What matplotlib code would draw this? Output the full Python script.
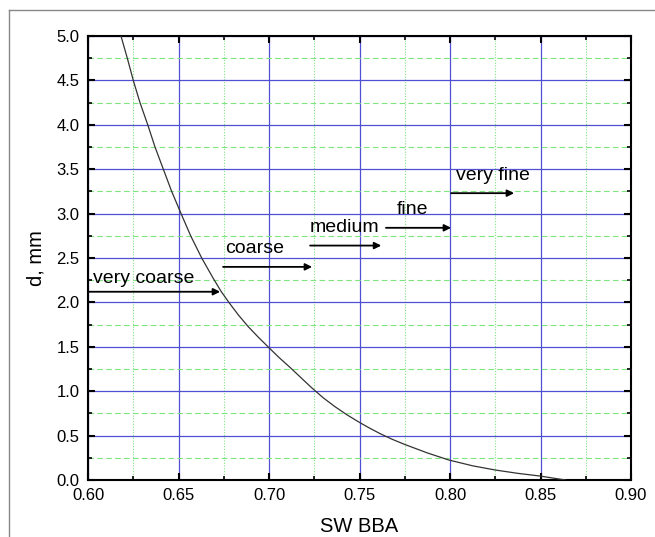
import matplotlib
matplotlib.use("Agg")
import matplotlib.pyplot as plt
from matplotlib.lines import Line2D
from matplotlib.ticker import MultipleLocator, FormatStrFormatter

plt.rcParams['font.family'] = ['Liberation Sans', 'DejaVu Sans']

# Grain size d (mm) versus SW BBA
sw_bba = [0.6182, 0.6217, 0.625, 0.6287, 0.633, 0.637, 0.6416, 0.6462,
          0.6514, 0.6567, 0.6628, 0.6692, 0.6735, 0.6780, 0.6830, 0.6886,
          0.6940, 0.6997, 0.7055, 0.7115, 0.7175, 0.7235, 0.7300, 0.7365,
          0.7430, 0.7497, 0.7555, 0.7613, 0.7680, 0.7748, 0.7875, 0.7994,
          0.8125, 0.8249, 0.8375, 0.8497, 0.8600, 0.8640]
d_mm = [5.0, 4.75, 4.5, 4.25, 4.0, 3.75, 3.5, 3.25,
        3.0, 2.75, 2.5, 2.27, 2.125, 1.995, 1.86, 1.725,
        1.61, 1.495, 1.38, 1.27, 1.155, 1.04, 0.925, 0.825,
        0.735, 0.652, 0.585, 0.523, 0.459, 0.402, 0.305, 0.225,
        0.16, 0.113, 0.075, 0.045, 0.012, 0.0]

# Size classes: label, label anchor (x, y), arrow start x, arrow end x, arrow y
class_labels = ["very coarse", "coarse", "medium", "fine", "very fine"]
label_x = [0.603, 0.6757, 0.7227, 0.7707, 0.8033]
label_y = [2.27, 2.61, 2.84, 3.05, 3.43]
arrow_x0 = [0.600, 0.6746, 0.7227, 0.7646, 0.8006]
arrow_x1 = [0.673, 0.7238, 0.762, 0.8006, 0.8354]
arrow_y = [2.12, 2.40, 2.64, 2.84, 3.23]

fig = plt.figure(figsize=(6.55, 5.37), dpi=100)
ax = fig.add_axes([0.1344, 0.1061, 0.9634 - 0.1344, 0.933 - 0.1061])

ax.set_xlim(0.60, 0.90)
ax.set_ylim(0.0, 5.0)
ax.xaxis.set_major_locator(MultipleLocator(0.05))
ax.xaxis.set_minor_locator(MultipleLocator(0.025))
ax.yaxis.set_major_locator(MultipleLocator(0.5))
ax.yaxis.set_minor_locator(MultipleLocator(0.25))
ax.xaxis.set_major_formatter(FormatStrFormatter('%.2f'))
ax.yaxis.set_major_formatter(FormatStrFormatter('%.1f'))

ax.grid(which='major', color='#5050d4', linewidth=0.9, linestyle='-')
ax.yaxis.grid(which='minor', color='#7ee47e', linewidth=0.8,
              linestyle=(0, (5, 3)))
ax.xaxis.grid(which='minor', color='#7ee47e', linewidth=0.8,
              linestyle=(0, (1, 1.5)))
ax.set_axisbelow(True)

ax.tick_params(which='both', direction='in', top=True, right=True,
               labelsize=12, pad=6)
ax.tick_params(which='major', length=5, width=1.5)
ax.tick_params(which='minor', length=3, width=1.2)
for s in ax.spines.values():
    s.set_linewidth(1.5)

ax.plot(sw_bba, d_mm, color='#333333', linewidth=0.9, zorder=3,
        solid_joinstyle='round')

for lab, lx, ly, x0, x1, ay in zip(class_labels, label_x, label_y,
                                   arrow_x0, arrow_x1, arrow_y):
    ax.text(lx, ly, lab, fontsize=14, ha='left', va='center', zorder=4)
    ax.annotate('', xy=(x1, ay), xytext=(x0, ay),
                arrowprops=dict(arrowstyle='-|>', color='black', lw=1.3,
                                mutation_scale=10, shrinkA=0, shrinkB=0),
                zorder=4)

ax.set_xlabel('SW BBA', fontsize=14.5, labelpad=10)
ax.set_ylabel('d, mm', fontsize=14.5, labelpad=8)

# Outer frame lines along top and left
fy = 1 - 10 / 537
fx = 9 / 655
fig.add_artist(Line2D([fx, 1], [fy, fy], transform=fig.transFigure,
                      color='#888888', linewidth=1.0))
fig.add_artist(Line2D([fx, fx], [0, fy], transform=fig.transFigure,
                      color='#888888', linewidth=1.0))

fig.savefig('out.png', dpi=100)
